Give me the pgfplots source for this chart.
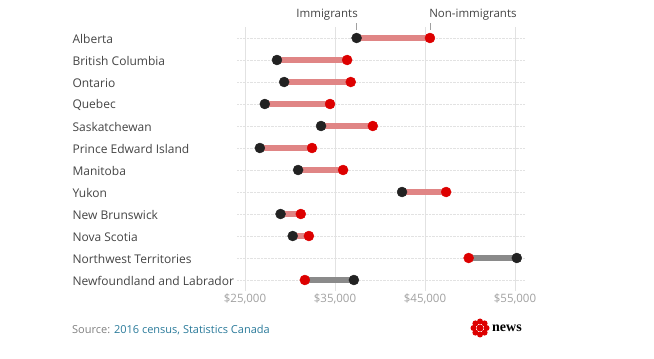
\documentclass[border=0pt]{standalone}
\usepackage{pgfplots}
\pgfplotsset{compat=1.18}
\usepackage{pgfplotstable}
\usepackage{fontspec}
\setmainfont{Open Sans}
\definecolor{dotred}{HTML}{DD0000}
\definecolor{dotblack}{HTML}{222222}
\definecolor{barred}{HTML}{E08585}
\definecolor{bargray}{HTML}{8A8A8A}
\definecolor{gridc}{HTML}{E2E2E2}
\definecolor{labc}{HTML}{444444}
\definecolor{tickc}{HTML}{A0A0A0}
\definecolor{linkc}{HTML}{2A7A9A}
\pgfplotstableread{
y imm non
1 37400 45550
2 28550 36350
3 29350 36750
4 27200 34450
5 33450 39200
6 26650 32450
7 30900 35900
8 42450 47350
9 28950 31200
10 30300 32100
11 55200 49850
12 37100 31650
}\data
\begin{document}
\begin{tikzpicture}[x=1pt,y=1pt]
\path[use as bounding box] (0,0) rectangle (654,359);
\begin{axis}[
  at={(237pt,68pt)}, anchor=south west,
  scale only axis, width=288pt, height=264pt,
  xmin=24111, xmax=56111, ymin=0.5, ymax=12.5,
  y dir=reverse,
  axis line style={draw=none},
  tick style={draw=none},
  scaled x ticks=false,
  xtick={25000,35000,45000,55000},
  xticklabels={{\$25,000},{\$35,000},{\$45,000},{\$55,000}},
  xticklabel style={text=tickc, font=\fontsize{11.5}{13}\selectfont, yshift=1pt},
  ytick={1,...,12},
  yticklabels={Alberta,British Columbia,Ontario,Quebec,Saskatchewan,Prince Edward Island,Manitoba,Yukon,New Brunswick,Nova Scotia,Northwest Territories,Newfoundland and Labrador},
  yticklabel style={anchor=west, xshift=-168pt, yshift=-1pt, text=labc, font=\fontsize{12}{14}\selectfont},
  xmajorgrids, ymajorgrids,
  x grid style={gridc, line width=0.6pt},
  y grid style={gridc, densely dotted, line width=0.6pt},
  clip=false,
]
\addplot[barred, line width=5.5pt] coordinates {(37400,1) (45550,1)};
\addplot[barred, line width=5.5pt] coordinates {(28550,2) (36350,2)};
\addplot[barred, line width=5.5pt] coordinates {(29350,3) (36750,3)};
\addplot[barred, line width=5.5pt] coordinates {(27200,4) (34450,4)};
\addplot[barred, line width=5.5pt] coordinates {(33450,5) (39200,5)};
\addplot[barred, line width=5.5pt] coordinates {(26650,6) (32450,6)};
\addplot[barred, line width=5.5pt] coordinates {(30900,7) (35900,7)};
\addplot[barred, line width=5.5pt] coordinates {(42450,8) (47350,8)};
\addplot[barred, line width=5.5pt] coordinates {(28950,9) (31200,9)};
\addplot[barred, line width=5.5pt] coordinates {(30300,10) (32100,10)};
\addplot[bargray, line width=5.5pt] coordinates {(55200,11) (49850,11)};
\addplot[bargray, line width=5.5pt] coordinates {(37100,12) (31650,12)};
\addplot[only marks, mark=*, mark size=5pt, mark options={fill=dotblack, draw=dotblack}] table[x=imm, y=y] {\data};
\addplot[only marks, mark=*, mark size=5pt, mark options={fill=dotred, draw=dotred}] table[x=non, y=y] {\data};
\draw[tickc, line width=0.6pt] (axis cs:37400,0.62) -- (axis cs:37400,0.3);
\draw[tickc, line width=0.6pt] (axis cs:45550,0.62) -- (axis cs:45550,0.3);
\node[anchor=south east, inner sep=0pt, text=labc, font=\fontsize{11.5}{13}\selectfont] at (axis cs:37550,0.22) {Immigrants};
\node[anchor=south west, inner sep=0pt, text=labc, font=\fontsize{11.5}{13}\selectfont] at (axis cs:45450,0.22) {Non-immigrants};
\end{axis}
\node[anchor=base west, inner sep=0pt, font=\fontsize{11}{12}\selectfont] at (72,25) {\textcolor{gray}{Source:} \textcolor{linkc}{2016 census, Statistics Canada}};
% CBC logo
\begin{scope}[shift={(480,31)}]
\fill[dotred] (0,0) circle (3.5);
\foreach \a in {0,45,...,315}{\fill[dotred] (\a:6.5) circle (3);}
\end{scope}
\node[anchor=west, inner sep=0pt, font=\fontsize{14}{15}\selectfont] at (492,31) {\fontspec{Liberation Serif}\bfseries news};
\end{tikzpicture}
\end{document}
